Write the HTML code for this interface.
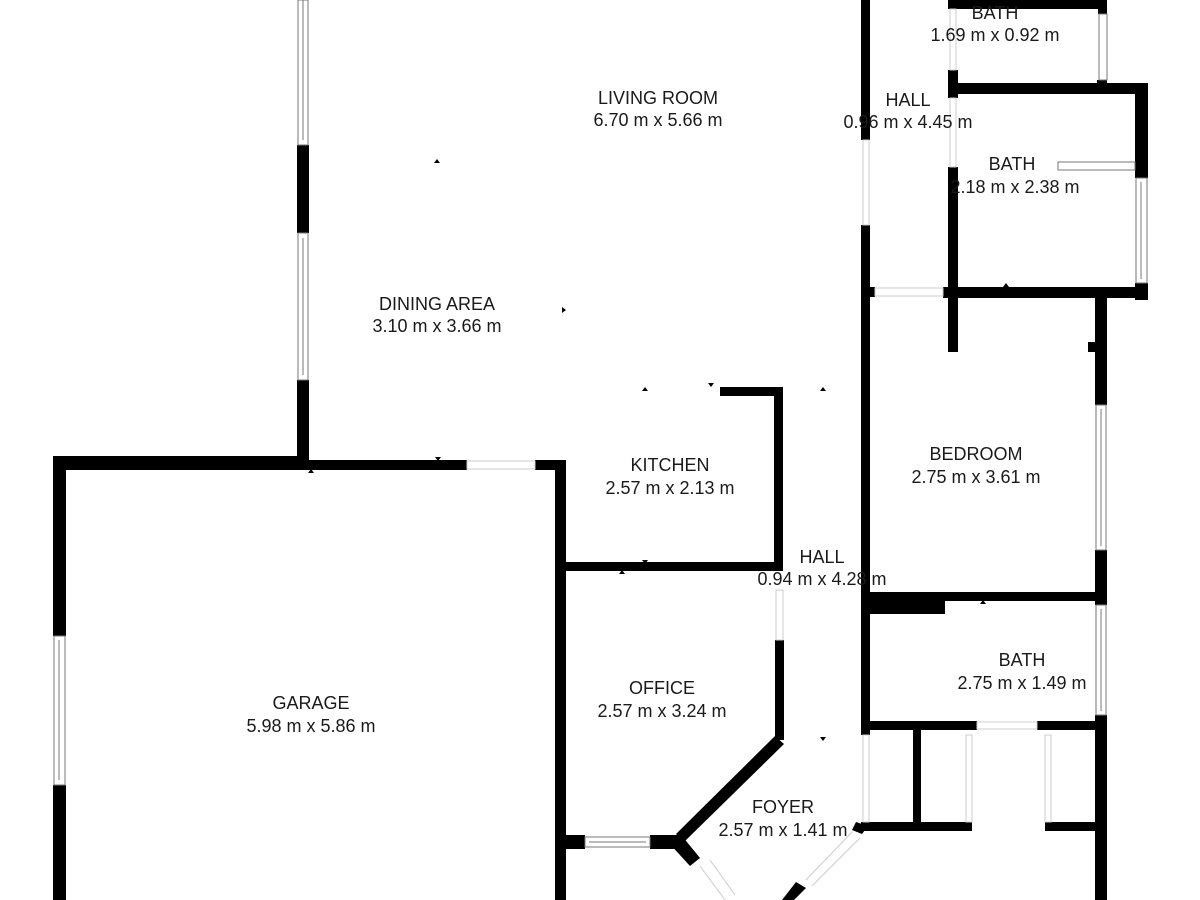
<!DOCTYPE html>
<html><head><meta charset="utf-8"><style>
html,body{margin:0;padding:0;background:#fff;}
svg{display:block}
text{font-family:"Liberation Sans",sans-serif;font-size:18px;fill:#1a1a1a;text-anchor:middle}
</style></head><body>
<svg width="1200" height="900" viewBox="0 0 1200 900" xmlns="http://www.w3.org/2000/svg">
<rect width="1200" height="900" fill="#fff"/>
<g fill="#000">
<rect x="297" y="145" width="12" height="88"/>
<rect x="297" y="380" width="12" height="84"/>
<rect x="53" y="456" width="250" height="14"/>
<rect x="297" y="460" width="170" height="10"/>
<rect x="535" y="460" width="30" height="10"/>
<rect x="53" y="456" width="13" height="180"/>
<rect x="53" y="785" width="13" height="115"/>
<rect x="555" y="460" width="11" height="440"/>
<rect x="720" y="387" width="62" height="9"/>
<rect x="774" y="387" width="9" height="183"/>
<rect x="560" y="562" width="223" height="9"/>
<rect x="775" y="640" width="9" height="100"/>
<polygon points="775,736 784,744 684,842 676,834"/>
<rect x="560" y="835" width="25" height="14"/>
<rect x="650" y="835" width="32" height="14"/>
<polygon points="668,842 682,836 700,858 690,866"/>
<polygon points="796,882 806,888 794,900 782,900"/>
<polygon points="856,822 868,826 862,834 852,830"/>
<rect x="861" y="0" width="9" height="140"/>
<rect x="861" y="225" width="9" height="510"/>
<rect x="948" y="0" width="158" height="9"/>
<rect x="1098" y="0" width="9" height="14"/>
<rect x="1097" y="80" width="10" height="12"/>
<rect x="948" y="70" width="10" height="28"/>
<rect x="948" y="83" width="200" height="11"/>
<rect x="1135" y="83" width="13" height="95"/>
<rect x="1135" y="283" width="13" height="17"/>
<rect x="948" y="167" width="10" height="185"/>
<rect x="861" y="287" width="14" height="10"/>
<rect x="943" y="287" width="205" height="11"/>
<rect x="1095" y="287" width="12" height="118"/>
<rect x="1088" y="342" width="12" height="10"/>
<rect x="1095" y="550" width="12" height="55"/>
<rect x="865" y="592" width="242" height="9"/>
<rect x="868" y="592" width="77" height="22"/>
<rect x="1095" y="715" width="12" height="185"/>
<rect x="861" y="721" width="116" height="9"/>
<rect x="1037" y="721" width="70" height="9"/>
<rect x="913" y="725" width="8" height="105"/>
<rect x="861" y="822" width="111" height="9"/>
<rect x="1045" y="822" width="60" height="9"/>
</g>
<g fill="#fff" stroke="#777" stroke-width="1">
<rect x="298" y="0" width="10" height="145"/>
<line x1="303" y1="0" x2="303" y2="140"/>
<rect x="298" y="233" width="10" height="147"/>
<line x1="303" y1="238" x2="303" y2="375"/>
<rect x="54" y="636" width="11" height="149"/>
<line x1="59" y1="640" x2="59" y2="780"/>
<rect x="1099" y="14" width="8" height="66"/>
<rect x="1136" y="178" width="11" height="105"/>
<line x1="1141" y1="182" x2="1141" y2="279"/>
<rect x="1096" y="405" width="10" height="145"/>
<line x1="1101" y1="409" x2="1101" y2="546"/>
<rect x="1096" y="605" width="10" height="110"/>
<line x1="1101" y1="609" x2="1101" y2="711"/>
<rect x="585" y="837" width="65" height="10"/>
<line x1="589" y1="842" x2="646" y2="842"/>
<rect x="1058" y="162" width="77" height="8"/>
</g>
<g fill="none" stroke="#ccc" stroke-width="1">
<rect x="467" y="461" width="68" height="8"/>
<rect x="776" y="590" width="7" height="50"/>
<rect x="863" y="140" width="6" height="85"/>
<rect x="950" y="9" width="6" height="61"/>
<rect x="950" y="98" width="6" height="69"/>
<rect x="875" y="288" width="68" height="8"/>
<rect x="977" y="722" width="60" height="7"/>
<rect x="863" y="735" width="6" height="87"/>
<rect x="966" y="735" width="6" height="87"/>
<rect x="1045" y="735" width="6" height="87"/>
<line x1="700" y1="866" x2="725" y2="900"/><line x1="710" y1="860" x2="735" y2="895"/>
<line x1="852" y1="832" x2="806" y2="880"/><line x1="860" y1="838" x2="812" y2="886"/>
</g>
<g fill="#000">
<polygon points="434,163 440,163 437,159"/>
<polygon points="562,307 562,313 566,310"/>
<polygon points="642,391 648,391 645,387"/>
<polygon points="708,383 714,383 711,387"/>
<polygon points="820,391 826,391 823,387"/>
<polygon points="435,457 441,457 438,461"/>
<polygon points="308,473 314,473 311,469"/>
<polygon points="619,574 625,574 622,570"/>
<polygon points="642,560 648,560 645,564"/>
<polygon points="820,737 826,737 823,741"/>
<polygon points="980,604 986,604 983,600"/>
<polygon points="1003,93 1009,93 1006,89"/>
<polygon points="1003,287 1009,287 1006,283"/>
</g>
<text x="658" y="104">LIVING ROOM</text>
<text x="658" y="126">6.70 m x 5.66 m</text>
<text x="437" y="310">DINING AREA</text>
<text x="437" y="332">3.10 m x 3.66 m</text>
<text x="670" y="471">KITCHEN</text>
<text x="670" y="494">2.57 m x 2.13 m</text>
<text x="311" y="709">GARAGE</text>
<text x="311" y="732">5.98 m x 5.86 m</text>
<text x="662" y="694">OFFICE</text>
<text x="662" y="717">2.57 m x 3.24 m</text>
<text x="822" y="563">HALL</text>
<text x="822" y="585">0.94 m x 4.28 m</text>
<text x="783" y="813">FOYER</text>
<text x="783" y="836">2.57 m x 1.41 m</text>
<text x="976" y="460">BEDROOM</text>
<text x="976" y="483">2.75 m x 3.61 m</text>
<text x="1022" y="666">BATH</text>
<text x="1022" y="689">2.75 m x 1.49 m</text>
<text x="908" y="106">HALL</text>
<text x="908" y="128">0.96 m x 4.45 m</text>
<text x="1012" y="170">BATH</text>
<text x="1015" y="193">2.18 m x 2.38 m</text>
<text x="995" y="19">BATH</text>
<text x="995" y="41">1.69 m x 0.92 m</text>
</svg>
</body></html>
